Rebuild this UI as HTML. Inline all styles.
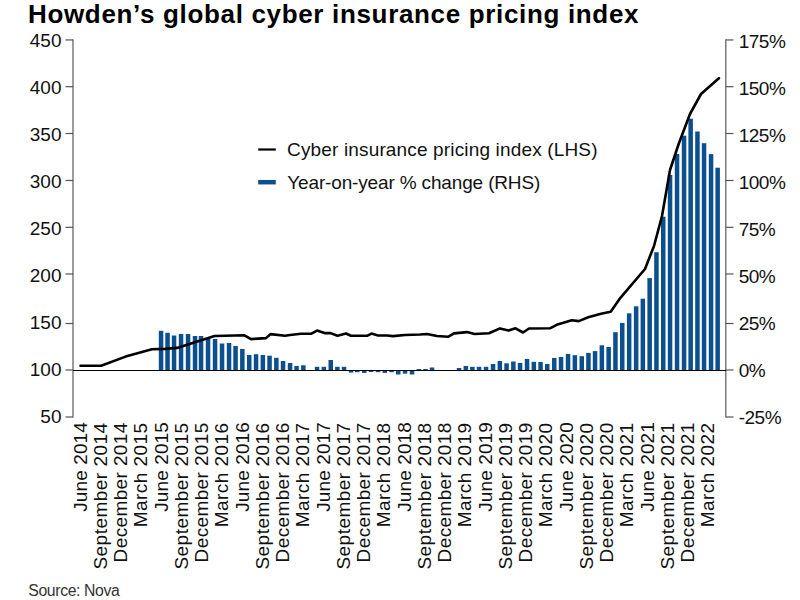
<!DOCTYPE html>
<html><head><meta charset="utf-8"><style>
html,body{margin:0;padding:0;background:#fff;}
body{width:800px;height:600px;overflow:hidden;}
svg{display:block;font-family:"Liberation Sans",sans-serif;}
</style></head><body>
<svg width="800" height="600" viewBox="0 0 800 600">
<rect width="800" height="600" fill="#fff"/>
<text x="28" y="23.2" font-size="26" font-weight="bold" fill="#000" textLength="610.5" lengthAdjust="spacing">Howden’s global cyber insurance pricing index</text>
<g fill="#0b4f8f"><rect x="158.80" y="330.80" width="4.5" height="39.70"/><rect x="165.30" y="332.80" width="4.5" height="37.70"/><rect x="171.80" y="335.50" width="4.5" height="35.00"/><rect x="178.80" y="334.00" width="4.5" height="36.50"/><rect x="185.80" y="334.00" width="4.5" height="36.50"/><rect x="192.80" y="336.00" width="4.5" height="34.50"/><rect x="198.80" y="336.00" width="4.5" height="34.50"/><rect x="205.80" y="338.00" width="4.5" height="32.50"/><rect x="212.80" y="339.00" width="4.5" height="31.50"/><rect x="219.80" y="343.50" width="4.5" height="27.00"/><rect x="226.80" y="343.00" width="4.5" height="27.50"/><rect x="233.30" y="346.00" width="4.5" height="24.50"/><rect x="240.10" y="349.00" width="4.5" height="21.50"/><rect x="247.00" y="355.00" width="4.5" height="15.50"/><rect x="253.80" y="354.20" width="4.5" height="16.30"/><rect x="260.60" y="355.00" width="4.5" height="15.50"/><rect x="267.30" y="355.70" width="4.5" height="14.80"/><rect x="274.10" y="357.80" width="4.5" height="12.70"/><rect x="280.80" y="361.00" width="4.5" height="9.50"/><rect x="287.80" y="363.00" width="4.5" height="7.50"/><rect x="294.30" y="366.00" width="4.5" height="4.50"/><rect x="301.10" y="365.30" width="4.5" height="5.20"/><rect x="314.80" y="366.80" width="4.5" height="3.70"/><rect x="321.60" y="366.80" width="4.5" height="3.70"/><rect x="328.50" y="360.00" width="4.5" height="10.50"/><rect x="335.10" y="366.80" width="4.5" height="3.70"/><rect x="341.80" y="366.80" width="4.5" height="3.70"/><rect x="348.80" y="370.50" width="4.5" height="2.10"/><rect x="355.00" y="370.50" width="4.5" height="1.70"/><rect x="362.00" y="370.50" width="4.5" height="2.40"/><rect x="368.80" y="370.50" width="4.5" height="1.50"/><rect x="375.80" y="370.50" width="4.5" height="1.70"/><rect x="382.60" y="370.50" width="4.5" height="2.40"/><rect x="389.30" y="370.50" width="4.5" height="1.70"/><rect x="396.00" y="370.50" width="4.5" height="4.00"/><rect x="402.80" y="370.50" width="4.5" height="3.10"/><rect x="409.80" y="370.50" width="4.5" height="4.00"/><rect x="416.60" y="369.00" width="4.5" height="1.50"/><rect x="423.30" y="369.00" width="4.5" height="1.50"/><rect x="429.80" y="367.50" width="4.5" height="3.00"/><rect x="456.80" y="368.00" width="4.5" height="2.50"/><rect x="463.60" y="366.00" width="4.5" height="4.50"/><rect x="470.10" y="366.80" width="4.5" height="3.70"/><rect x="476.80" y="366.80" width="4.5" height="3.70"/><rect x="483.80" y="366.80" width="4.5" height="3.70"/><rect x="490.80" y="364.00" width="4.5" height="6.50"/><rect x="497.60" y="361.00" width="4.5" height="9.50"/><rect x="504.30" y="363.30" width="4.5" height="7.20"/><rect x="511.10" y="361.50" width="4.5" height="9.00"/><rect x="517.80" y="363.00" width="4.5" height="7.50"/><rect x="524.80" y="359.00" width="4.5" height="11.50"/><rect x="531.60" y="361.80" width="4.5" height="8.70"/><rect x="538.30" y="362.00" width="4.5" height="8.50"/><rect x="545.00" y="364.00" width="4.5" height="6.50"/><rect x="552.00" y="358.00" width="4.5" height="12.50"/><rect x="558.80" y="357.00" width="4.5" height="13.50"/><rect x="565.80" y="354.00" width="4.5" height="16.50"/><rect x="572.60" y="355.20" width="4.5" height="15.30"/><rect x="579.50" y="356.20" width="4.5" height="14.30"/><rect x="586.20" y="352.90" width="4.5" height="17.60"/><rect x="592.80" y="351.10" width="4.5" height="19.40"/><rect x="599.60" y="345.30" width="4.5" height="25.20"/><rect x="606.40" y="347.00" width="4.5" height="23.50"/><rect x="613.20" y="332.20" width="4.5" height="38.30"/><rect x="620.00" y="322.90" width="4.5" height="47.60"/><rect x="626.90" y="313.30" width="4.5" height="57.20"/><rect x="633.90" y="306.30" width="4.5" height="64.20"/><rect x="640.60" y="298.70" width="4.5" height="71.80"/><rect x="647.40" y="278.10" width="4.5" height="92.40"/><rect x="654.20" y="252.20" width="4.5" height="118.30"/><rect x="661.00" y="216.70" width="4.5" height="153.80"/><rect x="667.80" y="175.00" width="4.5" height="195.50"/><rect x="674.80" y="154.00" width="4.5" height="216.50"/><rect x="681.80" y="135.70" width="4.5" height="234.80"/><rect x="688.40" y="118.70" width="4.5" height="251.80"/><rect x="695.20" y="131.50" width="4.5" height="239.00"/><rect x="701.80" y="143.20" width="4.5" height="227.30"/><rect x="708.80" y="154.10" width="4.5" height="216.40"/><rect x="715.40" y="167.70" width="4.5" height="202.80"/></g>
<g stroke="#666" stroke-width="1.3" fill="none">
<line x1="73" y1="39.3" x2="73" y2="417.6"/>
<line x1="725.8" y1="39.3" x2="725.8" y2="417.6"/>
</g>
<g stroke="#555" stroke-width="1.2" fill="none"><line x1="65.5" y1="39.94" x2="73" y2="39.94"/><line x1="726" y1="39.94" x2="733.5" y2="39.94"/><line x1="65.5" y1="86.70" x2="73" y2="86.70"/><line x1="726" y1="86.70" x2="733.5" y2="86.70"/><line x1="65.5" y1="133.50" x2="73" y2="133.50"/><line x1="726" y1="133.50" x2="733.5" y2="133.50"/><line x1="65.5" y1="180.50" x2="73" y2="180.50"/><line x1="726" y1="180.50" x2="733.5" y2="180.50"/><line x1="65.5" y1="227.35" x2="73" y2="227.35"/><line x1="726" y1="227.35" x2="733.5" y2="227.35"/><line x1="65.5" y1="274.00" x2="73" y2="274.00"/><line x1="726" y1="274.00" x2="733.5" y2="274.00"/><line x1="65.5" y1="323.50" x2="73" y2="323.50"/><line x1="726" y1="323.50" x2="733.5" y2="323.50"/><line x1="65.5" y1="370.00" x2="73" y2="370.00"/><line x1="726" y1="370.00" x2="733.5" y2="370.00"/><line x1="65.5" y1="417.00" x2="73" y2="417.00"/><line x1="726" y1="417.00" x2="733.5" y2="417.00"/></g>
<line x1="73" y1="370.5" x2="726" y2="370.5" stroke="#000" stroke-width="1"/>
<polyline points="80.5,365.8 101.1,365.7 125.6,356.6 151.9,349.3 165.0,348.9 177.0,347.9 214.5,336.0 225.0,335.7 244.5,335.3 251.0,339.1 266.0,338.1 270.5,334.1 285.0,335.7 290.0,335.0 301.0,333.8 311.0,333.8 317.0,330.6 324.5,333.1 330.5,333.1 337.5,335.8 346.0,333.5 351.0,335.7 367.5,335.7 371.5,333.6 378.0,335.5 387.0,335.5 393.0,336.1 405.0,335.0 420.0,334.5 427.0,334.0 437.0,336.0 448.0,336.8 454.0,333.4 467.0,332.1 474.5,334.0 489.0,333.3 500.0,328.4 508.5,330.6 515.5,328.3 523.0,332.5 529.0,328.5 550.0,328.3 556.7,324.8 571.8,320.3 578.8,321.1 588.2,317.2 601.0,313.7 610.7,311.8 620.4,297.8 645.0,269.0 654.0,246.0 662.0,216.0 670.0,170.0 679.0,143.0 690.0,114.0 701.0,94.0 718.9,78.2" fill="none" stroke="#000" stroke-width="2.6" stroke-linejoin="round" stroke-linecap="round"/>
<g font-size="19" fill="#111"><text x="61.5" y="46.75" text-anchor="end">450</text><text x="61.5" y="93.78" text-anchor="end">400</text><text x="61.5" y="140.81" text-anchor="end">350</text><text x="61.5" y="187.84" text-anchor="end">300</text><text x="61.5" y="234.87" text-anchor="end">250</text><text x="61.5" y="281.90" text-anchor="end">200</text><text x="61.5" y="328.93" text-anchor="end">150</text><text x="61.5" y="375.96" text-anchor="end">100</text><text x="61.5" y="422.99" text-anchor="end">50</text><text x="738.7" y="48.40" letter-spacing="-0.5">175%</text><text x="738.7" y="95.33" letter-spacing="-0.5">150%</text><text x="738.7" y="142.26" letter-spacing="-0.5">125%</text><text x="738.7" y="189.19" letter-spacing="-0.5">100%</text><text x="738.7" y="236.12" letter-spacing="-0.5">75%</text><text x="738.7" y="283.05" letter-spacing="-0.5">50%</text><text x="738.7" y="329.98" letter-spacing="-0.5">25%</text><text x="738.7" y="376.91" letter-spacing="-0.5">0%</text><text x="738.7" y="423.84" letter-spacing="-0.5">-25%</text></g>
<g font-size="19" fill="#111"><text transform="translate(86.75,422.02) rotate(-90)" text-anchor="end" letter-spacing="0.12">June 2014</text><text transform="translate(107.00,422.38) rotate(-90)" text-anchor="end" letter-spacing="0.48">September 2014</text><text transform="translate(127.24,422.28) rotate(-90)" text-anchor="end" letter-spacing="0.38">December 2014</text><text transform="translate(147.48,422.36) rotate(-90)" text-anchor="end" letter-spacing="0.46">March 2015</text><text transform="translate(167.73,422.02) rotate(-90)" text-anchor="end" letter-spacing="0.12">June 2015</text><text transform="translate(187.97,422.38) rotate(-90)" text-anchor="end" letter-spacing="0.48">September 2015</text><text transform="translate(208.22,422.28) rotate(-90)" text-anchor="end" letter-spacing="0.38">December 2015</text><text transform="translate(228.47,422.36) rotate(-90)" text-anchor="end" letter-spacing="0.46">March 2016</text><text transform="translate(248.71,422.02) rotate(-90)" text-anchor="end" letter-spacing="0.12">June 2016</text><text transform="translate(268.96,422.38) rotate(-90)" text-anchor="end" letter-spacing="0.48">September 2016</text><text transform="translate(289.20,422.28) rotate(-90)" text-anchor="end" letter-spacing="0.38">December 2016</text><text transform="translate(309.45,422.36) rotate(-90)" text-anchor="end" letter-spacing="0.46">March 2017</text><text transform="translate(329.69,422.02) rotate(-90)" text-anchor="end" letter-spacing="0.12">June 2017</text><text transform="translate(349.94,422.38) rotate(-90)" text-anchor="end" letter-spacing="0.48">September 2017</text><text transform="translate(370.18,422.28) rotate(-90)" text-anchor="end" letter-spacing="0.38">December 2017</text><text transform="translate(390.43,422.36) rotate(-90)" text-anchor="end" letter-spacing="0.46">March 2018</text><text transform="translate(410.67,422.02) rotate(-90)" text-anchor="end" letter-spacing="0.12">June 2018</text><text transform="translate(430.92,422.38) rotate(-90)" text-anchor="end" letter-spacing="0.48">September 2018</text><text transform="translate(451.16,422.28) rotate(-90)" text-anchor="end" letter-spacing="0.38">December 2018</text><text transform="translate(471.41,422.36) rotate(-90)" text-anchor="end" letter-spacing="0.46">March 2019</text><text transform="translate(491.65,422.02) rotate(-90)" text-anchor="end" letter-spacing="0.12">June 2019</text><text transform="translate(511.90,422.38) rotate(-90)" text-anchor="end" letter-spacing="0.48">September 2019</text><text transform="translate(532.14,422.28) rotate(-90)" text-anchor="end" letter-spacing="0.38">December 2019</text><text transform="translate(552.39,422.36) rotate(-90)" text-anchor="end" letter-spacing="0.46">March 2020</text><text transform="translate(572.63,422.02) rotate(-90)" text-anchor="end" letter-spacing="0.12">June 2020</text><text transform="translate(592.88,422.38) rotate(-90)" text-anchor="end" letter-spacing="0.48">September 2020</text><text transform="translate(613.12,422.28) rotate(-90)" text-anchor="end" letter-spacing="0.38">December 2020</text><text transform="translate(633.37,422.36) rotate(-90)" text-anchor="end" letter-spacing="0.46">March 2021</text><text transform="translate(653.61,422.02) rotate(-90)" text-anchor="end" letter-spacing="0.12">June 2021</text><text transform="translate(673.86,422.38) rotate(-90)" text-anchor="end" letter-spacing="0.48">September 2021</text><text transform="translate(694.10,422.28) rotate(-90)" text-anchor="end" letter-spacing="0.38">December 2021</text><text transform="translate(714.35,422.36) rotate(-90)" text-anchor="end" letter-spacing="0.46">March 2022</text></g>
<line x1="258.2" y1="149.5" x2="275.8" y2="149.5" stroke="#000" stroke-width="2.2"/>
<line x1="258.2" y1="182.2" x2="275.8" y2="182.2" stroke="#0b4f8f" stroke-width="4.5"/>
<g font-size="19" fill="#111">
<text x="287" y="155.9" textLength="310.5">Cyber insurance pricing index (LHS)</text>
<text x="287.3" y="188.5" textLength="253">Year-on-year % change (RHS)</text>
</g>
<text x="28.3" y="595.6" font-size="15.8" fill="#333" textLength="91.5">Source: Nova</text>
</svg>
</body></html>
